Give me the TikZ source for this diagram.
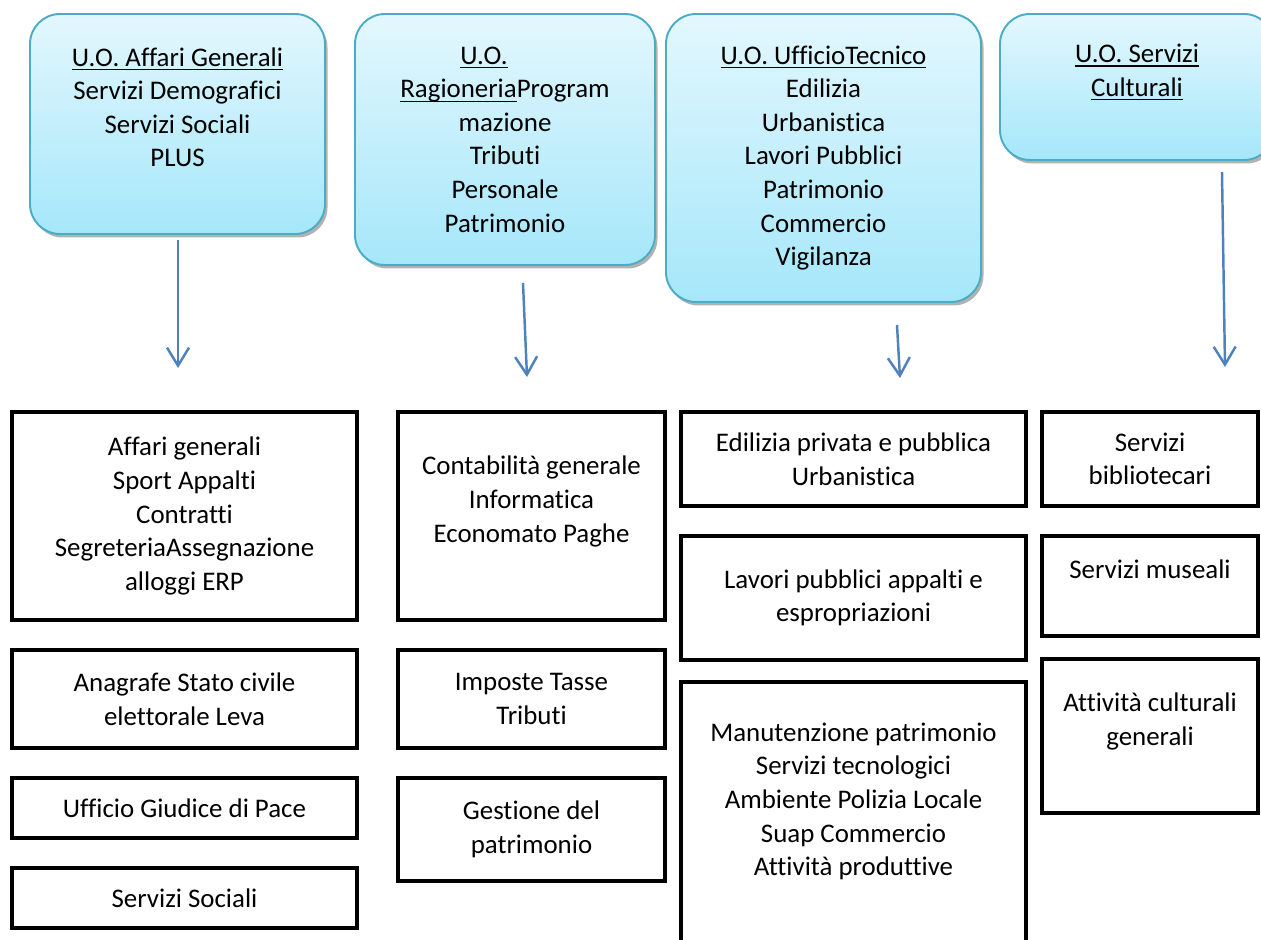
\documentclass[tikz,border=0pt]{standalone}
\usepackage{fontspec}
\setmainfont{Carlito}[Ligatures={NoCommon,NoRare,NoContextual}]
\usetikzlibrary{positioning,shadows,arrows.meta}
\definecolor{uoborder}{HTML}{4BACC6}
\definecolor{uotop}{HTML}{E3F7FD}
\definecolor{uobot}{HTML}{A5E7FA}
\definecolor{arrowblue}{HTML}{4F81BD}
\newcommand{\boxfont}{\fontsize{15.3}{19.1}\selectfont}
\newsavebox{\uosave}
\newcommand{\uoline}[1]{\sbox{\uosave}{#1}\rlap{\rule[-2.4pt]{\wd\uosave}{0.8pt}}\usebox{\uosave}}

\begin{document}
\begin{tikzpicture}[
  uobox/.style={draw=uoborder, line width=1.1pt, rounded corners=0.6cm, top color=uotop, bottom color=uobot,
    drop shadow={shadow xshift=0.05cm, shadow yshift=-0.07cm, fill=black!60, opacity=0.5},
    align=center, font=\boxfont, outer sep=0pt, anchor=north west},
  unitbox/.style={draw=black, line width=2.8pt, fill=white, align=center, font=\boxfont, outer sep=0pt},
  down/.style={draw=arrowblue, line width=1.4pt, -{Straight Barb[length=0.36cm, width=0.44cm]}}]
  \clip (0,0) rectangle (25.22,-18.80);

  % unita' organizzative
  \node[uobox, minimum width=5.9cm, minimum height=4.4cm] (ag) at (0.60,-0.28)
    {\uoline{U.O. Affari Generali}\\Servizi Demografici\\Servizi Sociali\\PLUS\\~};
  \node[uobox, minimum width=6.0cm, minimum height=5.02cm] (rg) at (7.10,-0.28)
    {\uoline{U.O.}\hspace*{0.84cm}\\\uoline{Ragioneria}Program\\mazione\\Tributi\\Personale\\Patrimonio};
  \node[uobox, minimum width=6.3cm, minimum height=5.76cm] (ut) at (13.32,-0.28)
    {\uoline{U.O. UfficioTecnico}\\Edilizia\\Urbanistica\\Lavori Pubblici\\Patrimonio\\Commercio\\Vigilanza};
  \node[uobox, minimum width=5.48cm, minimum height=2.92cm] (sc) at (20.00,-0.28)
    {\uoline{U.O. Servizi}\\\uoline{Culturali}\\~};

  % frecce
  \coordinate (agS) at (3.56,-4.80);   \coordinate (agE) at (3.56,-7.36);
  \coordinate (rgS) at (10.46,-5.66);  \coordinate (rgE) at (10.54,-7.54);
  \coordinate (utS) at (17.94,-6.50);  \coordinate (utE) at (18.00,-7.56);
  \coordinate (scS) at (24.44,-3.44);  \coordinate (scE) at (24.50,-7.34);
  \draw[down] (agS) -- (agE);
  \draw[down] (rgS) -- (rgE);
  \draw[down] (utS) -- (utE);
  \draw[down] (scS) -- (scE);

  % servizi Affari Generali
  \node[unitbox, minimum width=6.9cm, minimum height=4.16cm, anchor=north west] (agA) at (0.24,-8.24)
    {Affari generali\\Sport Appalti\\Contratti\\SegreteriaAssegnazione\\alloggi ERP};
  \node[unitbox, minimum width=6.9cm, minimum height=1.96cm, below=0.6cm of agA] (agB)
    {Anagrafe Stato civile\\elettorale Leva};
  \node[unitbox, minimum width=6.9cm, minimum height=1.2cm, below=0.6cm of agB] (agC)
    {Ufficio Giudice di Pace};
  \node[unitbox, minimum width=6.9cm, minimum height=1.2cm, below=0.6cm of agC] (agD)
    {Servizi Sociali};

  % servizi Ragioneria
  \node[unitbox, minimum width=5.34cm, minimum height=4.16cm, anchor=north west] (rgA) at (7.96,-8.24)
    {Contabilità generale\\Informatica\\Economato Paghe\\~};
  \node[unitbox, minimum width=5.34cm, minimum height=1.96cm, below=0.6cm of rgA] (rgB)
    {Imposte Tasse\\Tributi};
  \node[unitbox, minimum width=5.34cm, minimum height=2.06cm, below=0.6cm of rgB] (rgC)
    {Gestione del\\patrimonio};

  % servizi Ufficio Tecnico
  \node[unitbox, minimum width=6.9cm, minimum height=1.88cm, anchor=north west] (utA) at (13.62,-8.24)
    {Edilizia privata e pubblica\\Urbanistica};
  \node[unitbox, minimum width=6.9cm, minimum height=2.48cm, below=0.6cm of utA] (utB)
    {Lavori pubblici appalti e\\espropriazioni};
  \node[unitbox, minimum width=6.9cm, minimum height=5.36cm, below=0.44cm of utB] (utC)
    {Manutenzione patrimonio\\Servizi tecnologici\\Ambiente Polizia Locale\\Suap Commercio\\Attività produttive\\~};

  % servizi Culturali
  \node[unitbox, minimum width=4.32cm, minimum height=1.88cm, anchor=north west] (scA) at (20.84,-8.24)
    {Servizi\\bibliotecari};
  \node[unitbox, minimum width=4.32cm, minimum height=2.0cm, below=0.6cm of scA] (scB)
    {Servizi museali\\~};
  \node[unitbox, minimum width=4.32cm, minimum height=3.08cm, below=0.46cm of scB] (scC)
    {Attività culturali\\generali\\~};
\end{tikzpicture}
\end{document}
